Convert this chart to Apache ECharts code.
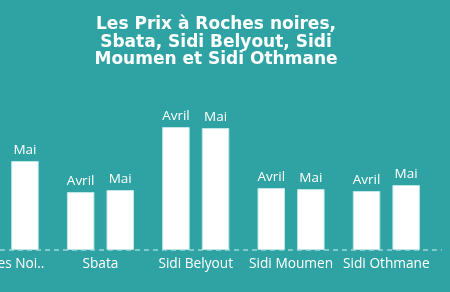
<!DOCTYPE html>
<html>
<head>
<meta charset="utf-8">
<script src="https://cdn.jsdelivr.net/npm/echarts@6/dist/echarts.min.js"></script>
<style>
html,body{margin:0;padding:0;background:#2fa3a3;overflow:hidden;width:450px;height:292px;}
#c{width:493px;height:292px;margin-left:-43px;}
</style>
</head>
<body>
<div id="c"></div>
<script>
const categories = ['Roches Noires', 'Sbata', 'Sidi Belyout', 'Sidi Moumen', 'Sidi Othmane'];
const avril = [86, 58, 123, 62, 59];
const mai = [89, 60, 122, 61, 65];
const seriesNames = ['Avril', 'Mai'];

const SHIFT = 43;
const chart = echarts.init(document.getElementById('c'));
const labelStyle = {
  show: true, position: 'top', formatter: '{a}', color: '#ffffff',
  fontFamily: 'Open Sans', fontSize: 13.5, distance: 4
};
chart.setOption({
  backgroundColor: '#2fa3a3',
  animation: false,
  title: {
    text: 'Les Prix à Roches noires,\nSbata, Sidi Belyout, Sidi\nMoumen et Sidi Othmane',
    left: 211 + SHIFT, top: 11, textAlign: 'center',
    textStyle: { color: '#ffffff', fontFamily: 'DejaVu Sans', fontWeight: 'bold', fontSize: 17, lineHeight: 17.5 }
  },
  grid: { left: 0.5, right: 16, top: 100, bottom: 42, containLabel: false },
  xAxis: {
    type: 'category', data: categories,
    axisLine: { show: false }, axisTick: { show: false },
    axisLabel: {
      color: '#ffffff', fontFamily: 'Open Sans', fontSize: 13.7, margin: 7, interval: 0,
      formatter: v => v.length > 12 ? v.slice(0, 10) + '..' : v
    }
  },
  yAxis: { type: 'value', min: 0, max: 150, show: false, splitLine: { show: false } },
  series: [
    { name: seriesNames[0], type: 'bar', data: avril, barWidth: 27.5, barGap: '44%',
      itemStyle: { color: '#ffffff', borderColor: '#bfe6e6', borderWidth: 1 }, label: labelStyle },
    { name: seriesNames[1], type: 'bar', data: mai, barWidth: 27.5, barGap: '44%',
      itemStyle: { color: '#ffffff', borderColor: '#bfe6e6', borderWidth: 1 }, label: labelStyle }
  ]
});
const baseY = chart.convertToPixel({ yAxisIndex: 0 }, 0);
chart.setOption({
  graphic: [{
    type: 'line', shape: { x1: SHIFT, y1: baseY, x2: SHIFT + 442, y2: baseY }, z: 0,
    style: { stroke: '#9ed6d6', lineWidth: 1.5, lineDash: [5, 4] }
  }]
});
</script>
</body>
</html>
